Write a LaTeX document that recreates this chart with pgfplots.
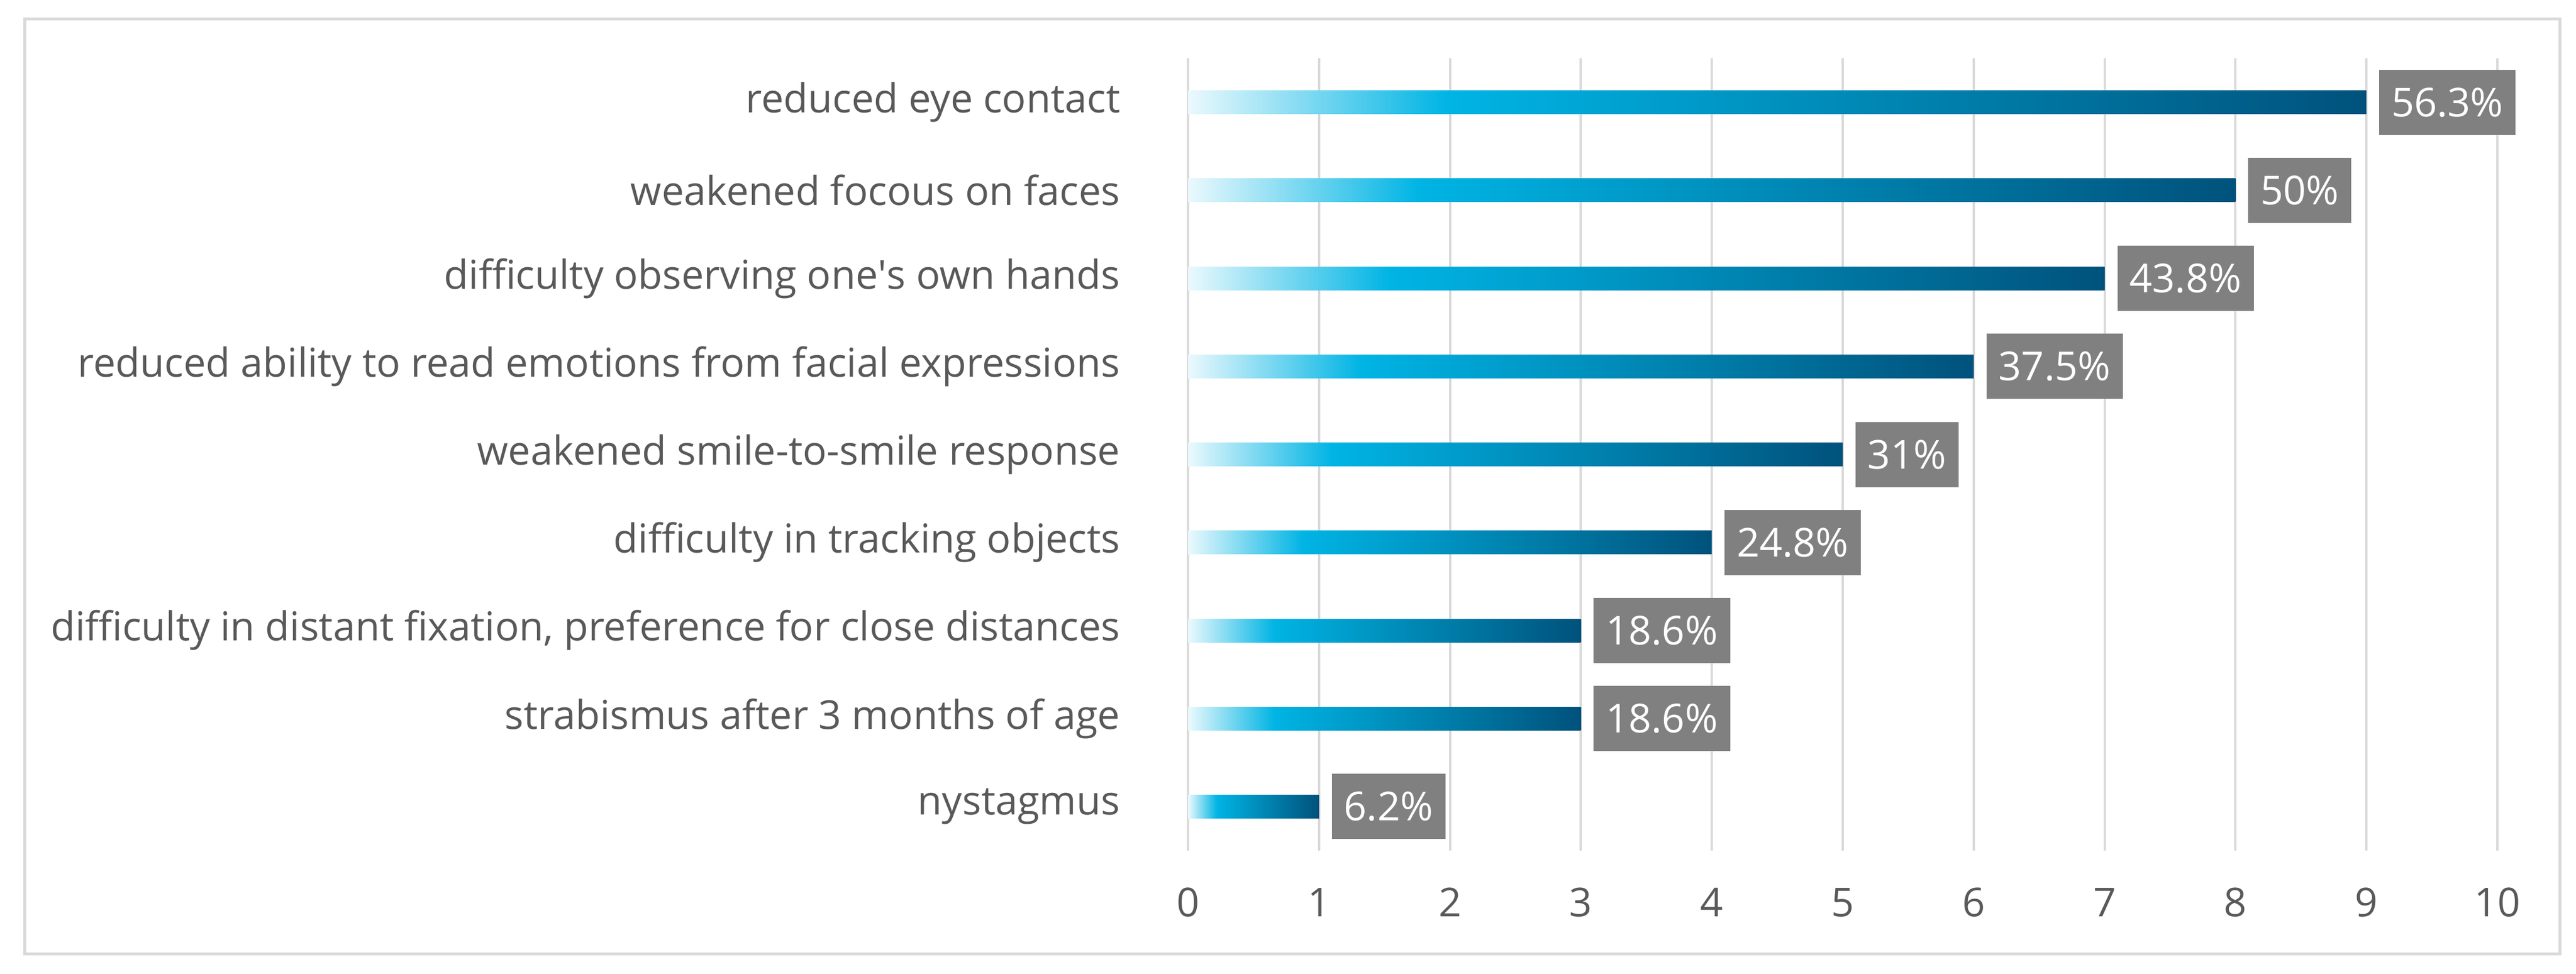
\documentclass[border=0pt]{standalone}
\usepackage{pgfplots}
\pgfplotsset{compat=1.18}
\usepackage{fontspec}
\setmainfont{Open Sans}
\definecolor{barcyan}{RGB}{0,180,228}
\definecolor{bardark}{RGB}{0,82,124}
\definecolor{txtgray}{RGB}{89,89,89}
\definecolor{boxgray}{RGB}{128,128,128}
\definecolor{gridgray}{RGB}{217,217,217}
% fade in from white, full cyan at ~20% of the bar, dark teal at the end
\pgfdeclarehorizontalshading{barfade}{100bp}{color(0bp)=(white); color(25bp)=(white!92!barcyan); color(36bp)=(barcyan); color(75bp)=(bardark); color(100bp)=(bardark)}

\begin{document}
\begin{tikzpicture}
\path[use as bounding box] (0,0) rectangle (442.3pt,167.2pt);
\draw[gridgray, line width=0.5pt] (4.2pt,3.4pt) rectangle (439.5pt,164pt);
\begin{axis}[
  at={(204pt,21.1pt)}, anchor=south west,
  width=224.8pt, height=136.1pt, scale only axis,
  xbar, bar width=4pt, bar shift=0pt,
  xmin=0, xmax=10, ymin=-0.5, ymax=8.5,
  xtick={0,...,10}, ytick={0,...,8},
  yticklabels={nystagmus,
    strabismus after 3 months of age,
    {difficulty in distant fixation, preference for close distances},
    difficulty in tracking objects,
    weakened smile-to-smile response,
    reduced ability to read emotions from facial expressions,
    difficulty observing one\textquotesingle s own hands,
    weakened focous on faces,
    reduced eye contact\ },
  xmajorgrids, major grid style={gridgray, line width=0.4pt},
  axis line style={draw=none}, tick style={draw=none},
  font=\fontsize{6.85}{8}\selectfont,
  tick label style={text=txtgray},
  yticklabel style={inner xsep=0pt, xshift=-7.2pt},
  xticklabel style={anchor=center, yshift=-8.9pt},
  /pgf/number format/assume math mode=true,
  point meta=explicit symbolic,
  nodes near coords,
  nodes near coords style={anchor=west, xshift=2pt, fill=boxgray, text=white,
    inner xsep=2.1pt, inner ysep=0pt, minimum height=11.2pt,
    font=\fontsize{6.85}{8}\selectfont},
  every axis plot/.append style={draw=none, shade, shading=barfade},
]
% one plot per bar, so every bar gets its own gradient
\addplot coordinates {(1,0) [6.2\%]};
\addplot coordinates {(3,1) [18.6\%]};
\addplot coordinates {(3,2) [18.6\%]};
\addplot coordinates {(4,3) [24.8\%]};
\addplot coordinates {(5,4) [31\%]};
\addplot coordinates {(6,5) [37.5\%]};
\addplot coordinates {(7,6) [43.8\%]};
\addplot coordinates {(8,7) [50\%]};
\addplot coordinates {(9,8) [56.3\%]};
\end{axis}
\end{tikzpicture}
\end{document}
